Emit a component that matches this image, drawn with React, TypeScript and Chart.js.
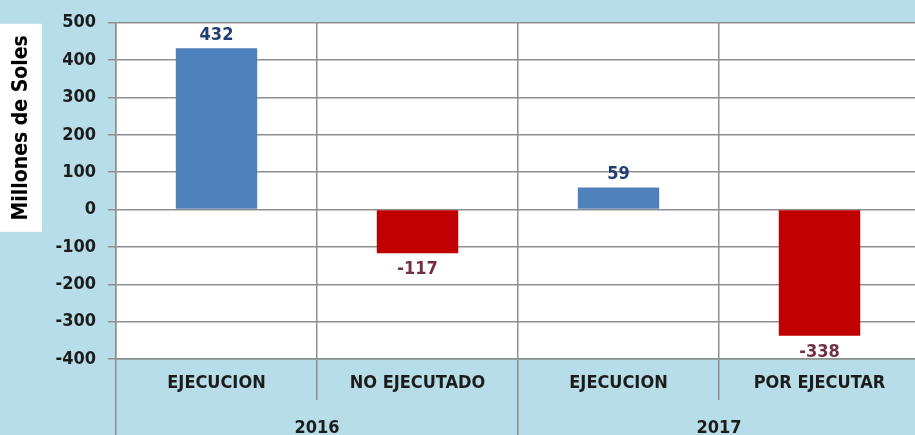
import React, { useEffect, useRef } from 'react';
import { Chart, registerables } from 'chart.js';

Chart.register(...registerables);

const categories = ['EJECUCION', 'NO EJECUTADO', 'EJECUCION', 'POR EJECUTAR'];
const years = ['2016', '2017'];
const values = [432, -117, 59, -338];
const yMin = -400;
const yMax = 500;
const yStep = 100;
const yAxisTitle = 'Millones de Soles';

const FONT = '"DejaVu Sans Condensed", "DejaVu Sans", sans-serif';
const BG = '#b7dde8';
const GRID = '#8f8f8f';
const BLUE = '#4f81bd';
const RED = '#c00000';
const POS_LABEL = '#213e72';
const NEG_LABEL = '#722f45';
const TEXT = '#1c1c1c';

const titlePlugin = {
  id: 'yTitleBox',
  afterDraw(chart: any) {
    const ctx = chart.ctx;
    const area = chart.chartArea;
    ctx.save();
    ctx.fillStyle = '#ffffff';
    ctx.fillRect(0, area.top + 1, 42, 208);
    ctx.translate(22, area.top + 105);
    ctx.rotate(-Math.PI / 2);
    ctx.fillStyle = '#000000';
    ctx.font = `bold 21px ${FONT}`;
    ctx.textAlign = 'center';
    ctx.textBaseline = 'middle';
    ctx.fillText(yAxisTitle, 0, 0);
    ctx.restore();
  },
};

const valueLabelPlugin = {
  id: 'valueLabels',
  afterDatasetsDraw(chart: any) {
    const ctx = chart.ctx;
    const meta = chart.getDatasetMeta(0);
    const data = chart.data.datasets[0].data as number[];
    ctx.save();
    ctx.font = `bold 18px ${FONT}`;
    ctx.textAlign = 'center';
    ctx.textBaseline = 'middle';
    meta.data.forEach((el: any, i: number) => {
      const v = data[i];
      if (v >= 0) {
        ctx.fillStyle = POS_LABEL;
        ctx.fillText(String(v), el.x, el.y - 13);
      } else {
        ctx.fillStyle = NEG_LABEL;
        ctx.fillText(String(v), el.x, el.y + 16);
      }
    });
    ctx.restore();
  },
};

function App() {
  const canvasRef = useRef<HTMLCanvasElement | null>(null);

  useEffect(() => {
    if (!canvasRef.current) return;
    const chart = new Chart(canvasRef.current, {
      type: 'bar',
      data: {
        labels: categories,
        datasets: [
          {
            data: values,
            backgroundColor: values.map((v) => (v >= 0 ? BLUE : RED)),
            borderWidth: 0,
            categoryPercentage: 1,
            barPercentage: 0.405,
            xAxisID: 'x',
            yAxisID: 'y',
          },
        ],
      },
      options: {
        animation: false,
        responsive: false,
        layout: { padding: { left: 0, right: 5, top: 21, bottom: 0 } },
        plugins: {
          legend: { display: false },
          tooltip: { enabled: false },
          title: { display: false },
        },
        scales: {
          x: {
            type: 'category',
            position: 'bottom',
            offset: true,
            grid: {
              offset: true,
              color: GRID,
              lineWidth: 1.5,
              tickLength: 41,
              drawOnChartArea: true,
            },
            border: { display: true, color: GRID, width: 1.5 },
            ticks: {
              color: TEXT,
              font: { family: FONT, size: 18, weight: 'bold' },
              padding: -27,
              maxRotation: 0,
              autoSkip: false,
            },
            afterFit(scale: any) {
              scale.height = 41;
            },
          },
          x2: {
            type: 'category',
            position: 'bottom',
            labels: years,
            offset: true,
            grid: {
              offset: true,
              color: GRID,
              lineWidth: 1.5,
              tickLength: 35,
              drawOnChartArea: false,
            },
            border: { display: false },
            ticks: {
              color: TEXT,
              font: { family: FONT, size: 18, weight: 'bold' },
              padding: -17,
              maxRotation: 0,
              autoSkip: false,
            },
            afterFit(scale: any) {
              scale.height = 35;
            },
          },
          y: {
            min: yMin,
            max: yMax,
            ticks: {
              stepSize: yStep,
              color: TEXT,
              font: { family: FONT, size: 18, weight: 'bold' },
              padding: 12,
            },
            grid: {
              color: GRID,
              lineWidth: 1.5,
              tickLength: 8,
            },
            border: { display: true, color: GRID, width: 1.5 },
            afterFit(scale: any) {
              scale.width = 116;
            },
          },
        },
      },
      plugins: [
        {
          id: 'plotBg',
          beforeDraw(chart: any) {
            const { ctx, chartArea } = chart;
            ctx.save();
            ctx.fillStyle = '#ffffff';
            ctx.fillRect(
              chartArea.left,
              chartArea.top,
              chartArea.right - chartArea.left,
              chartArea.bottom - chartArea.top
            );
            ctx.restore();
          },
        },
        valueLabelPlugin,
        titlePlugin,
      ],
    } as any);
    return () => chart.destroy();
  }, []);

  return (
    <div
      style={{
        position: 'fixed',
        left: 0,
        top: 0,
        width: 915,
        height: 435,
        overflow: 'hidden',
        background: BG,
      }}
    >
      <canvas ref={canvasRef} width={925} height={435} style={{ display: 'block' }} />
    </div>
  );
}

export default App;
